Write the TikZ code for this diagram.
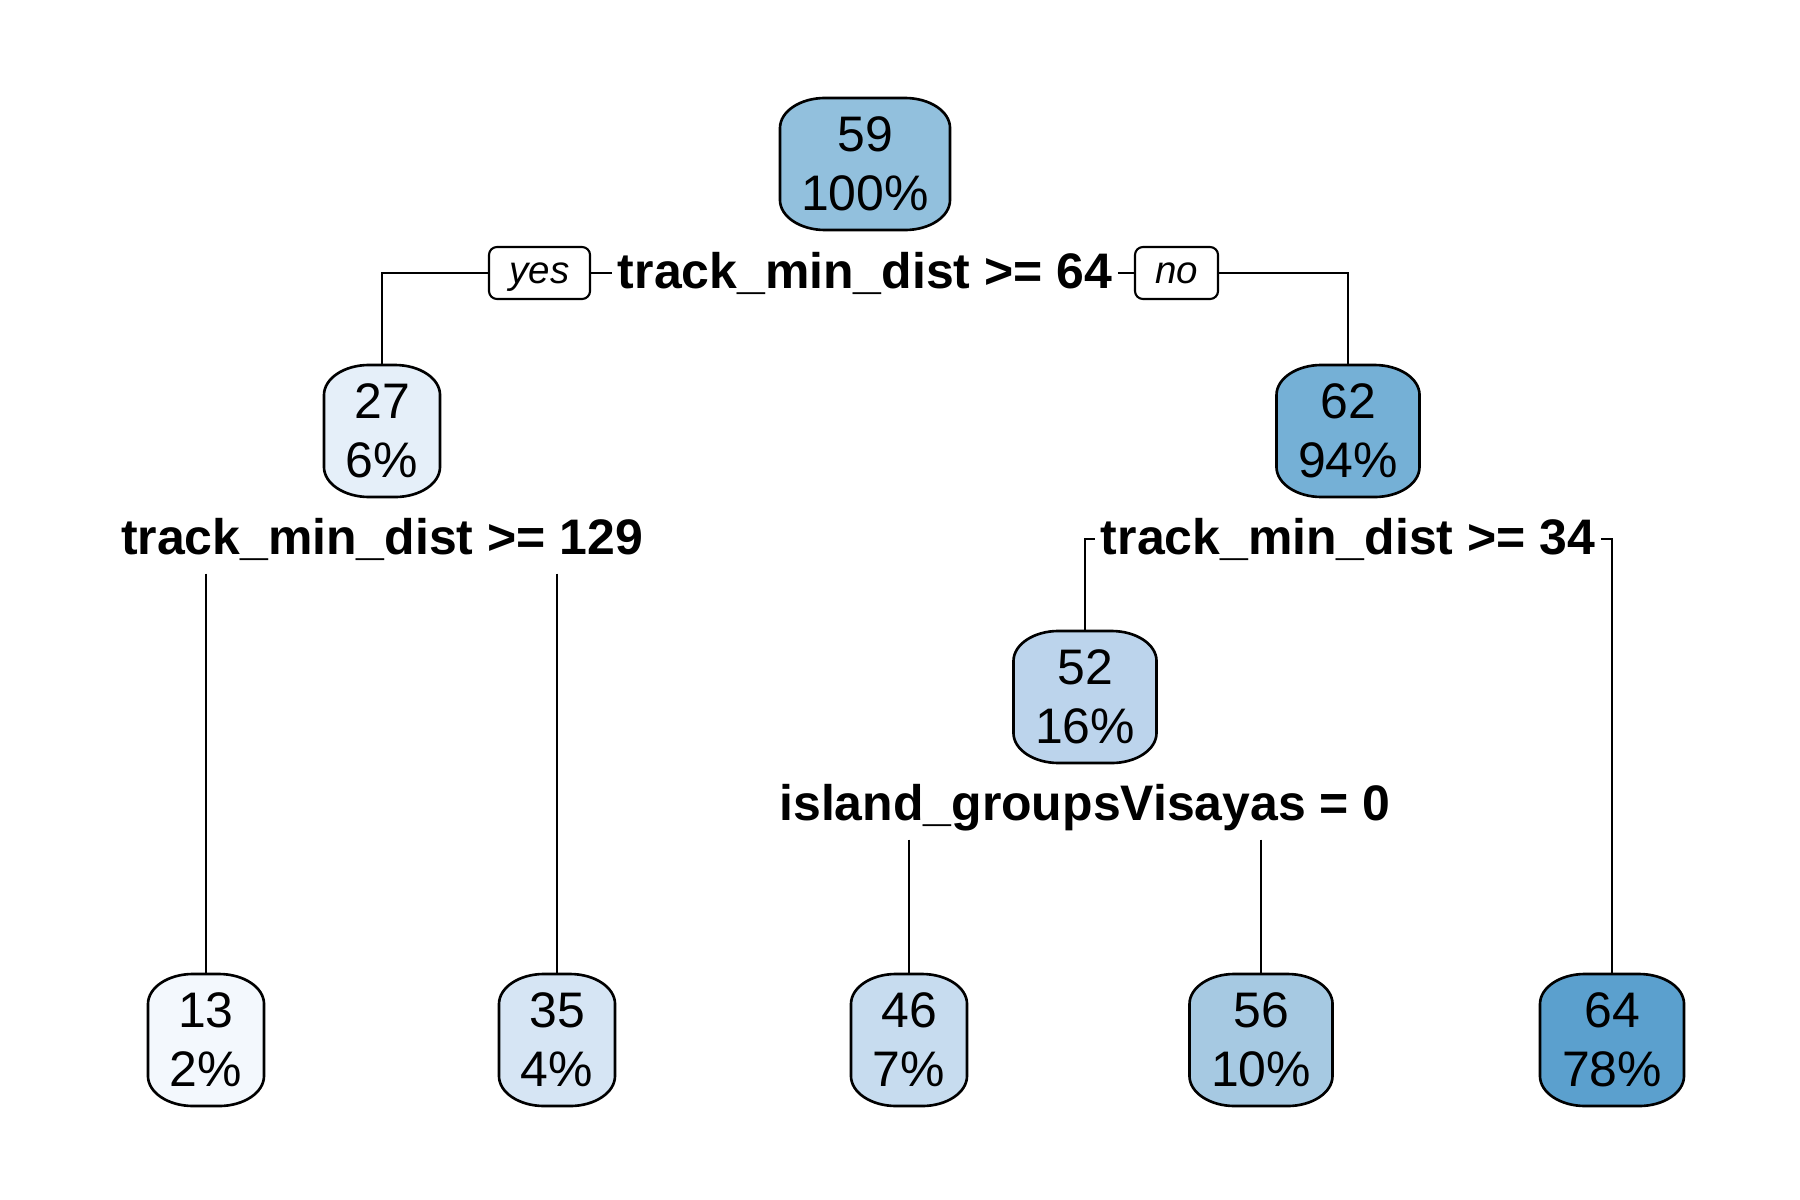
\documentclass[tikz,border=0pt]{standalone}
\usepackage{fontspec}
\setmainfont{Liberation Sans}
\definecolor{c13}{HTML}{F3F8FD}
\definecolor{c27}{HTML}{E5EFF9}
\definecolor{c35}{HTML}{D6E5F4}
\definecolor{c46}{HTML}{C7DCEF}
\definecolor{c52}{HTML}{BCD4EC}
\definecolor{c56}{HTML}{A6C9E2}
\definecolor{c59}{HTML}{92C0DD}
\definecolor{c62}{HTML}{75B0D6}
\definecolor{c64}{HTML}{5BA0CE}
\newcommand\rxx{0.45cm}
\newcommand\ryy{0.30cm}
\newcommand\tbox[6]{%
  \filldraw[boxline, fill=#5]
    ({#2-#4/2},{#3-36}) arc[start angle=180,end angle=90,x radius=\rxx,y radius=\ryy]
    -- ({#2+#4/2-45},{#3-66}) arc[start angle=90,end angle=0,x radius=\rxx,y radius=\ryy]
    -- ({#2+#4/2},{#3+36}) arc[start angle=0,end angle=-90,x radius=\rxx,y radius=\ryy]
    -- ({#2-#4/2+45},{#3+66}) arc[start angle=-90,end angle=-180,x radius=\rxx,y radius=\ryy]
    -- cycle;
  \node[tnode, minimum width={#4*0.01cm}] (#1) at (#2,#3) {#6};
}
\begin{document}
\begin{tikzpicture}[x=0.01cm,y=-0.01cm,
  boxline/.style={draw=black, line width=0.75pt},
  tnode/.style={inner sep=0pt, minimum height=1.32cm, align=center,
    font=\fontsize{14.2pt}{16.8pt}\selectfont},
  splitlab/.style={inner xsep=0.05cm, inner ysep=0.19cm, text height=0.30cm, text depth=0pt,
    font=\fontsize{14.2pt}{16.8pt}\selectfont\bfseries},
  yn/.style={draw=black, line width=0.6pt, fill=white, rounded corners=0.08cm,
    inner sep=0pt, minimum height=0.52cm, text height=0.2cm, text depth=0pt,
    font=\fontsize{10.95pt}{13pt}\selectfont\itshape},
  conn/.style={draw=black, line width=0.6pt}]
\useasboundingbox (0,0) rectangle (1800,1200);
% boxes
\tbox{n59}{865}{164}{170}{c59}{59\\100\%}
\tbox{n27}{382}{431}{116}{c27}{27\\6\%}
\tbox{n62}{1348}{431}{143}{c62}{62\\94\%}
\tbox{n52}{1085}{697}{143}{c52}{52\\16\%}
\tbox{n13}{206}{1040}{116}{c13}{13\\2\%}
\tbox{n35}{557}{1040}{116}{c35}{35\\4\%}
\tbox{n46}{909}{1040}{116}{c46}{46\\7\%}
\tbox{n56}{1261}{1040}{143}{c56}{56\\10\%}
\tbox{n64}{1612}{1040}{144}{c64}{64\\78\%}
% split labels
\node[splitlab] (l64) at (865,273) {track\_min\_dist >= 64};
\node[splitlab] (l129) at (382,539) {track\_min\_dist >= 129};
\node[splitlab] (l34) at (1348,539) {track\_min\_dist >= 34};
\node[splitlab] (lvis) at (1085,805) {island\_groupsVisayas = 0};
% yes / no
\node[yn, minimum width=1.01cm] (yes) at (539.5,273) {yes};
\node[yn, minimum width=0.83cm] (no) at (1176.5,273) {no};
% connectors
\draw[conn] (n27.north) -- (n27.north |- yes.west) -- (yes.west);
\draw[conn] (yes.east) -- (l64.west);
\draw[conn] (l64.east) -- (no.west);
\draw[conn] (no.east) -- (no.east -| n62.north) -- (n62.north);
\draw[conn] (l129.south -| n13.north) -- (n13.north);
\draw[conn] (l129.south -| n35.north) -- (n35.north);
\draw[conn] (n52.north) -- (n52.north |- l34.west) -- (l34.west);
\draw[conn] (l34.east) -- (l34.east -| n64.north) -- (n64.north);
\draw[conn] (lvis.south -| n46.north) -- (n46.north);
\draw[conn] (lvis.south -| n56.north) -- (n56.north);
\end{tikzpicture}
\end{document}
